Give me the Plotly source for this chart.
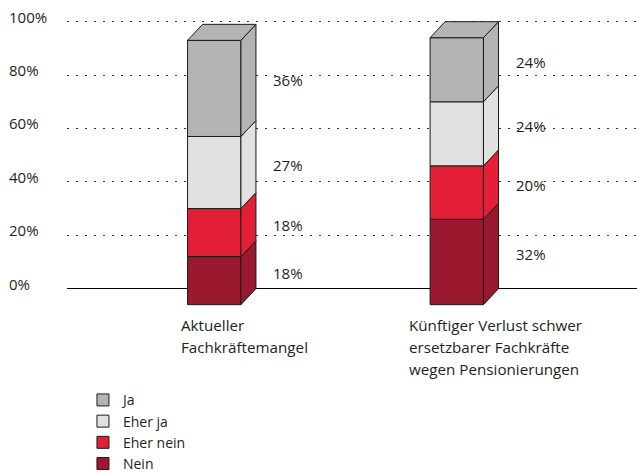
import plotly.graph_objects as go

# ---------------- data ----------------
category_lines = [
    ["Aktueller", "Fachkräftemangel"],
    ["Künftiger Verlust schwer", "ersetzbarer Fachkräfte", "wegen Pensionierungen"],
]
series_names = ["Nein", "Eher nein", "Eher ja", "Ja"]
nein = [18, 32]
eher_nein = [18, 20]
eher_ja = [27, 24]
ja = [36, 24]
y_ticks = [0, 20, 40, 60, 80, 100]

# ---------------- style / layout constants ----------------
series_values = [nein, eher_nein, eher_ja, ja]
colors = ["#9B192F", "#E31F37", "#E1E1E1", "#B4B4B4"]
EDGE = "#1a1a1a"
FONT = "Open Sans"
TXT = "#231F20"
BAR_W = 0.22      # front face width (x units)
DX = 0.062        # depth offset in x
DY = 6            # depth offset in y (%)
LABEL_DX = 0.234  # percent label offset from bar centre
CAT_DX = [-0.145, -0.205]
CAT_Y0 = -0.0516  # paper coords, first line of category labels
LINE_STEP = 0.0727

n = len(category_lines)
fig = go.Figure()

starts = [[0] * n]
for vals in series_values:
    starts.append([s + v for s, v in zip(starts[-1], vals)])

annotations = []
for k, (name, vals, col) in enumerate(zip(series_names, series_values, colors)):
    st = starts[k]
    # front faces
    fig.add_trace(go.Bar(
        x=list(range(n)), y=vals, base=[s - DY for s in st], width=BAR_W,
        name=name, marker=dict(color=col, line=dict(color=EDGE, width=1)),
        hoverinfo="skip",
    ))
    # side faces
    xs, ys = [], []
    for i in range(n):
        s, e = st[i], st[i] + vals[i]
        xr = i + BAR_W / 2
        xs += [xr, xr + DX, xr + DX, xr, xr, None]
        ys += [s - DY, s, e, e - DY, s - DY, None]
        annotations.append(dict(
            x=i + LABEL_DX, y=(s + e) / 2 - DY / 2, xref="x", yref="y",
            text=f"{vals[i]}%", showarrow=False, xanchor="left", yanchor="middle",
            font=dict(family=FONT, size=15, color=TXT),
        ))
    fig.add_trace(go.Scatter(
        x=xs, y=ys, mode="lines", fill="toself", fillcolor=col,
        line=dict(color=EDGE, width=1), showlegend=False, hoverinfo="skip",
    ))

# top faces (on top segment)
top_col = colors[-1]
xs, ys = [], []
for i in range(n):
    t = starts[-1][i]
    xl, xr = i - BAR_W / 2, i + BAR_W / 2
    xs += [xl, xl + DX, xr + DX, xr, xl, None]
    ys += [t - DY, t, t, t - DY, t - DY, None]
fig.add_trace(go.Scatter(
    x=xs, y=ys, mode="lines", fill="toself", fillcolor=top_col,
    line=dict(color=EDGE, width=1), showlegend=False, hoverinfo="skip",
))

# y tick labels (left aligned)
for v in y_ticks:
    annotations.append(dict(
        x=-0.105, xref="paper", y=v, yref="y", yshift=5, text=f"{v}%",
        showarrow=False, xanchor="left", yanchor="middle",
        font=dict(family=FONT, size=15, color=TXT),
    ))

# category labels
for i, lines in enumerate(category_lines):
    for j, line in enumerate(lines):
        annotations.append(dict(
            x=i + CAT_DX[i], xref="x", y=CAT_Y0 - j * LINE_STEP, yref="paper",
            text=line, showarrow=False, xanchor="left", yanchor="middle",
            font=dict(family=FONT, size=15.2, color=TXT),
        ))

fig.update_layout(
    width=637, height=473,
    margin=dict(l=67, r=0, t=11, b=163, autoexpand=False),
    paper_bgcolor="white", plot_bgcolor="white",
    barmode="overlay",
    xaxis=dict(range=[-0.607, 1.743], visible=False, fixedrange=True),
    yaxis=dict(range=[-8, 104], tickvals=y_ticks, showticklabels=False,
               showgrid=True, gridcolor="#333333", gridwidth=1, griddash="2px,7px",
               zeroline=True, zerolinecolor="#000000", zerolinewidth=1,
               showline=False, ticks="", fixedrange=True),
    legend=dict(
        x=0.028, xanchor="left", y=-0.2486, yanchor="top",
        traceorder="reversed", orientation="v",
        font=dict(family=FONT, size=14, color=TXT),
        bgcolor="rgba(0,0,0,0)",
    ),
    annotations=annotations,
    showlegend=True,
)

fig.write_html(
    "out.html",
    config={"displayModeBar": False},
    post_script="document.body.style.margin='0';document.body.style.padding='0';",
)
